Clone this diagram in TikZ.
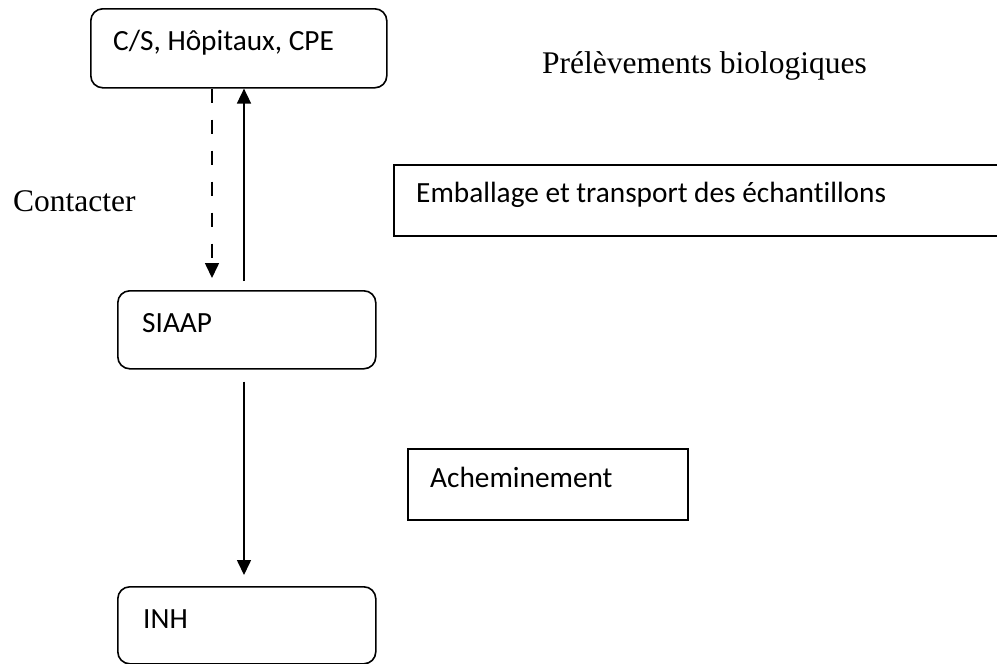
\documentclass[tikz,border=0pt]{standalone}
\usepackage{fontspec}
\setmainfont{Liberation Serif}
\newfontfamily\calfont[Ligatures=NoCommon]{Carlito}
\usetikzlibrary{arrows.meta,calc}
\tikzset{
  rbox/.style={draw=black, line width=1.6pt, rounded corners=12pt, inner sep=0pt, anchor=north west},
  sbox/.style={draw=black, line width=1.6pt, inner sep=0pt, anchor=north west},
  btxt/.style={inner sep=0pt, anchor=base west, font=\calfont\fontsize{29.3}{34}\selectfont},
  stxt/.style={inner sep=0pt, anchor=base west, font=\fontsize{31.5}{36}\selectfont},
  conn/.style={line width=1.6pt, -{Triangle[length=15pt,width=14pt]}},
  dconn/.style={conn, dash pattern=on 14pt off 17pt},
}
\begin{document}
\begin{tikzpicture}[x=1pt,y=-1pt]
\useasboundingbox (0,0) rectangle (997,664);
\clip (0,0) rectangle (997,664);
\fill[white] (0,0) rectangle (997,664);
% boxes
\node[rbox, minimum width=296pt, minimum height=79pt] (cs) at (90,8) {};
\node[rbox, minimum width=258pt, minimum height=78pt] (siaap) at (117,290) {};
\node[rbox, minimum width=258pt, minimum height=77pt] (inh) at (117,586) {};
\node[sbox, minimum width=640pt, minimum height=71pt] (emb) at (393,164) {};
\node[sbox, minimum width=280pt, minimum height=71pt] (ach) at (407,448) {};
% texts
\node[btxt] (cst) at (113,50) {C/S, Hôpitaux, CPE};
\node[btxt] (siaapt) at (142,332) {SIAAP};
\node[btxt] (inht) at (143,628) {INH};
\node[btxt] (embt) at (416,202) {Emballage et transport des échantillons};
\node[btxt] (acht) at (430,487) {Acheminement};
\node[stxt] (prel) at (542,73) {Prélèvements biologiques};
\node[stxt] (cont) at (13,211) {Contacter};
% connectors
\draw[dconn] ([xshift=122pt]cs.south west) -- ([xshift=95pt,yshift=12pt]siaap.north west);
\draw[conn] ([xshift=127pt,yshift=9pt]siaap.north west) -- ([xshift=154pt]cs.south west);
\draw[conn] ([xshift=127pt,yshift=-12pt]siaap.south west) -- ([xshift=127pt,yshift=11pt]inh.north west);
\end{tikzpicture}
\end{document}
